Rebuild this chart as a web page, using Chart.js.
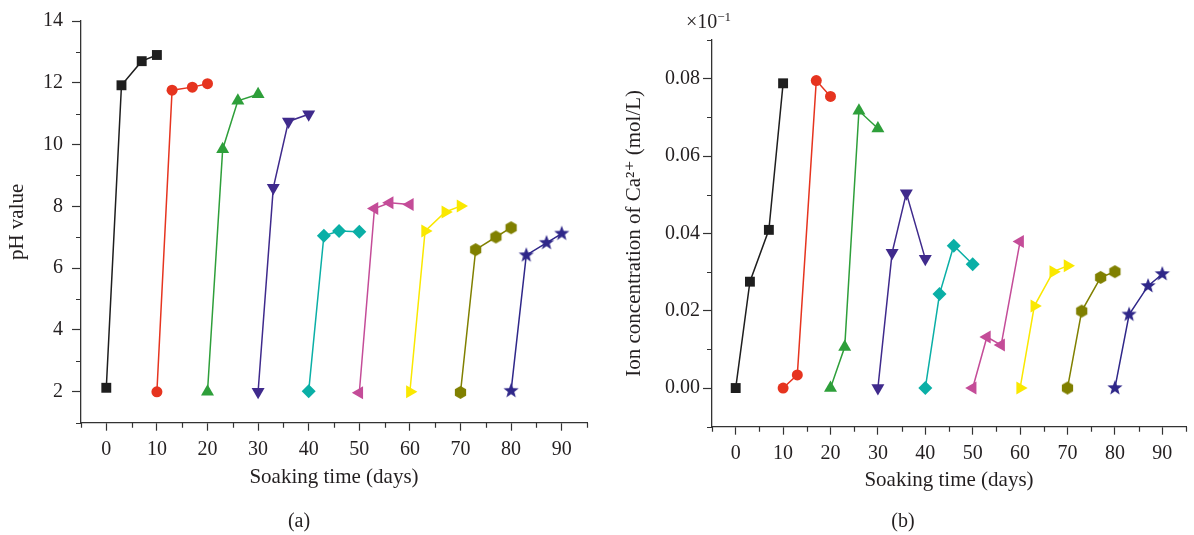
<!DOCTYPE html>
<html>
<head>
<meta charset="utf-8">
<script src="https://cdn.jsdelivr.net/npm/chart.js@4.4.1/dist/chart.umd.min.js"></script>
<style>
  body { margin: 0; background: #fff; width: 1194px; height: 535px; position: relative; overflow: hidden;
         font-family: 'Liberation Serif', 'DejaVu Serif', serif; color: #231f20; }
  canvas { position: absolute; top: 0; }
  #phChart { left: 0; }
  #caChart { left: 600px; }
  .lbl { position: absolute; font-size: 20px; transform: translate(-50%, -50%); white-space: nowrap; }
  #mult { position: absolute; left: 686px; top: 10px; font-size: 20px; }
  #mult sup { font-size: 13px; vertical-align: 7px; line-height: 0; }
</style>
</head>
<body>
<canvas id="phChart" width="600" height="535"></canvas>
<canvas id="caChart" width="594" height="535"></canvas>
<div class="lbl" style="left:299px; top:520px">(a)</div>
<div class="lbl" style="left:903px; top:520px">(b)</div>
<div id="mult">×10<sup>−1</sup></div>
<script>
// soaking days of each group (9 groups, 4 readings each)
const soakDays = [
  [0, 3, 7, 10], [10, 13, 17, 20], [20, 23, 26, 30], [30, 33, 36, 40], [40, 43, 46, 50],
  [50, 53, 56, 60], [60, 63, 67, 70], [70, 73, 77, 80], [80, 83, 87, 90]
];

// (a) pH value
const phValues = [
  [2.13, 11.92, 12.70, 12.90],
  [2.0, 11.76, 11.86, 11.97],
  [2.0, 9.85, 11.42, 11.63],
  [2.0, 8.6, 10.75, 10.98],
  [2.02, 7.05, 7.2, 7.18],
  [1.97, 7.93, 8.12, 8.06],
  [2.0, 7.2, 7.82, 8.01],
  [1.98, 6.6, 7.01, 7.31],
  [2.03, 6.42, 6.82, 7.12]
];

// (b) Ca2+ concentration, x10^-1 mol/L
const caValues = [
  [0, 0.0275, 0.0409, 0.0788],
  [0, 0.0034, 0.0795, 0.0754],
  [0, 0.0106, 0.0717, 0.0671],
  [0, 0.035, 0.0504, 0.0334],
  [0, 0.0243, 0.0368, 0.032],
  [0, 0.0132, 0.0111, 0.0379],
  [0, 0.0212, 0.0301, 0.0316],
  [0, 0.0199, 0.0286, 0.0301],
  [0, 0.019, 0.0264, 0.0295]
];

const colors = ['#1e1e1e', '#e6341f', '#2e9f3a', '#3f2a8c', '#0aafa6', '#c44c98', '#fae800', '#808000', '#2f2789'];
const axisColor = '#333333';
const textColor = '#231f20';
const fontFamily = "'Liberation Serif', 'DejaVu Serif', serif";

// hexagon and filled star markers (not built into Chart.js)
function makeHex(color, r) {
  const c = document.createElement('canvas');
  c.width = c.height = Math.ceil(r * 2) + 2;
  const g = c.getContext('2d');
  const m = c.width / 2;
  g.fillStyle = color;
  g.beginPath();
  for (let i = 0; i < 6; i++) {
    const a = -Math.PI / 2 + i * Math.PI / 3;
    g.lineTo(m + r * Math.cos(a), m + r * Math.sin(a));
  }
  g.closePath();
  g.fill();
  return c;
}
function makeStar(color, r) {
  const c = document.createElement('canvas');
  c.width = c.height = Math.ceil(r * 2) + 2;
  const g = c.getContext('2d');
  const m = c.width / 2;
  g.fillStyle = color;
  g.beginPath();
  for (let i = 0; i < 10; i++) {
    const rr = i % 2 ? r * 0.42 : r;
    const a = -Math.PI / 2 + i * Math.PI / 5;
    g.lineTo(m + rr * Math.cos(a), m + rr * Math.sin(a));
  }
  g.closePath();
  g.fill();
  return c;
}

const markers = [
  { style: 'rect', r: 7, rot: 0 },
  { style: 'circle', r: 5.5, rot: 0 },
  { style: 'triangle', r: 7.5, rot: 0 },
  { style: 'triangle', r: 7.5, rot: 180 },
  { style: 'rectRot', r: 7, rot: 0 },
  { style: 'triangle', r: 7.5, rot: 270 },
  { style: 'triangle', r: 7.5, rot: 90 },
  { style: makeHex(colors[7], 6.5), r: 7, rot: 0 },
  { style: makeStar(colors[8], 8), r: 8, rot: 0 }
];

function buildDatasets(values) {
  return values.map((vals, i) => ({
    data: vals.map((v, j) => ({ x: soakDays[i][j], y: v })),
    borderColor: colors[i],
    backgroundColor: colors[i],
    borderWidth: 1.5,
    pointStyle: markers[i].style,
    pointRadius: markers[i].r,
    pointRotation: markers[i].rot,
    pointBorderWidth: 0,
    pointBackgroundColor: colors[i],
    tension: 0,
    clip: false
  }));
}

// minor ticks: shorter marks where the label is empty
const minorTicks = {
  id: 'minorTicks',
  afterDraw(chart) {
    const ctx = chart.ctx;
    ctx.save();
    ctx.strokeStyle = axisColor;
    ctx.lineWidth = 1.2;
    const xs = chart.scales.x, ys = chart.scales.y;
    ctx.beginPath();
    xs.ticks.forEach(t => {
      if (t.label === '') {
        const px = Math.round(xs.getPixelForValue(t.value)) + 0.5;
        ctx.moveTo(px, xs.top);
        ctx.lineTo(px, xs.top + 5);
      }
    });
    ys.ticks.forEach(t => {
      if (t.label === '') {
        const py = Math.round(ys.getPixelForValue(t.value)) + 0.5;
        ctx.moveTo(ys.right, py);
        ctx.lineTo(ys.right - 5, py);
      }
    });
    ctx.stroke();
    ctx.restore();
  }
};

function tickColor(c) {
  return c.tick && c.tick.label === '' ? 'rgba(0,0,0,0)' : axisColor;
}

function makeChart(id, values, cfg) {
  new Chart(document.getElementById(id), {
    type: 'line',
    data: { datasets: buildDatasets(values) },
    options: {
      responsive: false,
      animation: false,
      layout: { padding: cfg.padding },
      plugins: { legend: { display: false }, tooltip: { enabled: false } },
      scales: {
        x: {
          type: 'linear',
          min: -5, max: 95,
          afterFit: s => { s.height = 70; },
          border: { display: true, color: axisColor, width: 1.3 },
          grid: { drawOnChartArea: false, drawTicks: true, tickLength: 8, tickWidth: 1.2, tickColor: tickColor },
          ticks: {
            stepSize: 5, autoSkip: false, maxRotation: 0, padding: 7,
            color: textColor, font: { family: fontFamily, size: 20 },
            callback: v => (v >= 0 && v <= 90 && v % 10 === 0) ? String(v) : ''
          },
          title: {
            display: true, text: 'Soaking time (days)', color: textColor,
            font: { family: fontFamily, size: 21 }, padding: { top: 0, bottom: cfg.xTitlePad }
          }
        },
        y: {
          type: 'linear',
          min: cfg.yMin, max: cfg.yMax,
          afterFit: s => { s.width = cfg.yWidth; },
          border: { display: true, color: axisColor, width: 1.3 },
          grid: { drawOnChartArea: false, drawTicks: true, tickLength: 9, tickWidth: 1.2, tickColor: tickColor },
          ticks: {
            stepSize: cfg.yStep, autoSkip: false, padding: cfg.yTickPad,
            color: textColor, font: { family: fontFamily, size: 20 },
            callback: cfg.yLabel
          },
          title: {
            display: true, text: cfg.yTitle, color: textColor,
            font: { family: fontFamily, size: 21 }, padding: { top: cfg.yTitlePad, bottom: 0 }
          }
        }
      }
    },
    plugins: [minorTicks]
  });
}

makeChart('phChart', phValues, {
  padding: { top: 15.7, right: 13, bottom: 42.3, left: 0 },
  yMin: 1, yMax: 14, yStep: 1, yWidth: 81, yTickPad: 9, yTitlePad: 5, xTitlePad: 3,
  yTitle: 'pH value',
  yLabel: v => (v >= 2 && v % 2 === 0) ? String(v) : ''
});

makeChart('caChart', caValues, {
  padding: { top: 40, right: 2.8, bottom: 38.3, left: 0 },
  yMin: -0.01, yMax: 0.09, yStep: 0.01, yWidth: 112, yTickPad: 3, yTitlePad: 22, xTitlePad: 4,
  yTitle: 'Ion concentration of Ca²⁺ (mol/L)',
  yLabel: v => {
    const n = Math.round(v * 100);
    return (n >= 0 && n <= 8 && n % 2 === 0) ? (n / 100).toFixed(2) : '';
  }
});
</script>
</body>
</html>
